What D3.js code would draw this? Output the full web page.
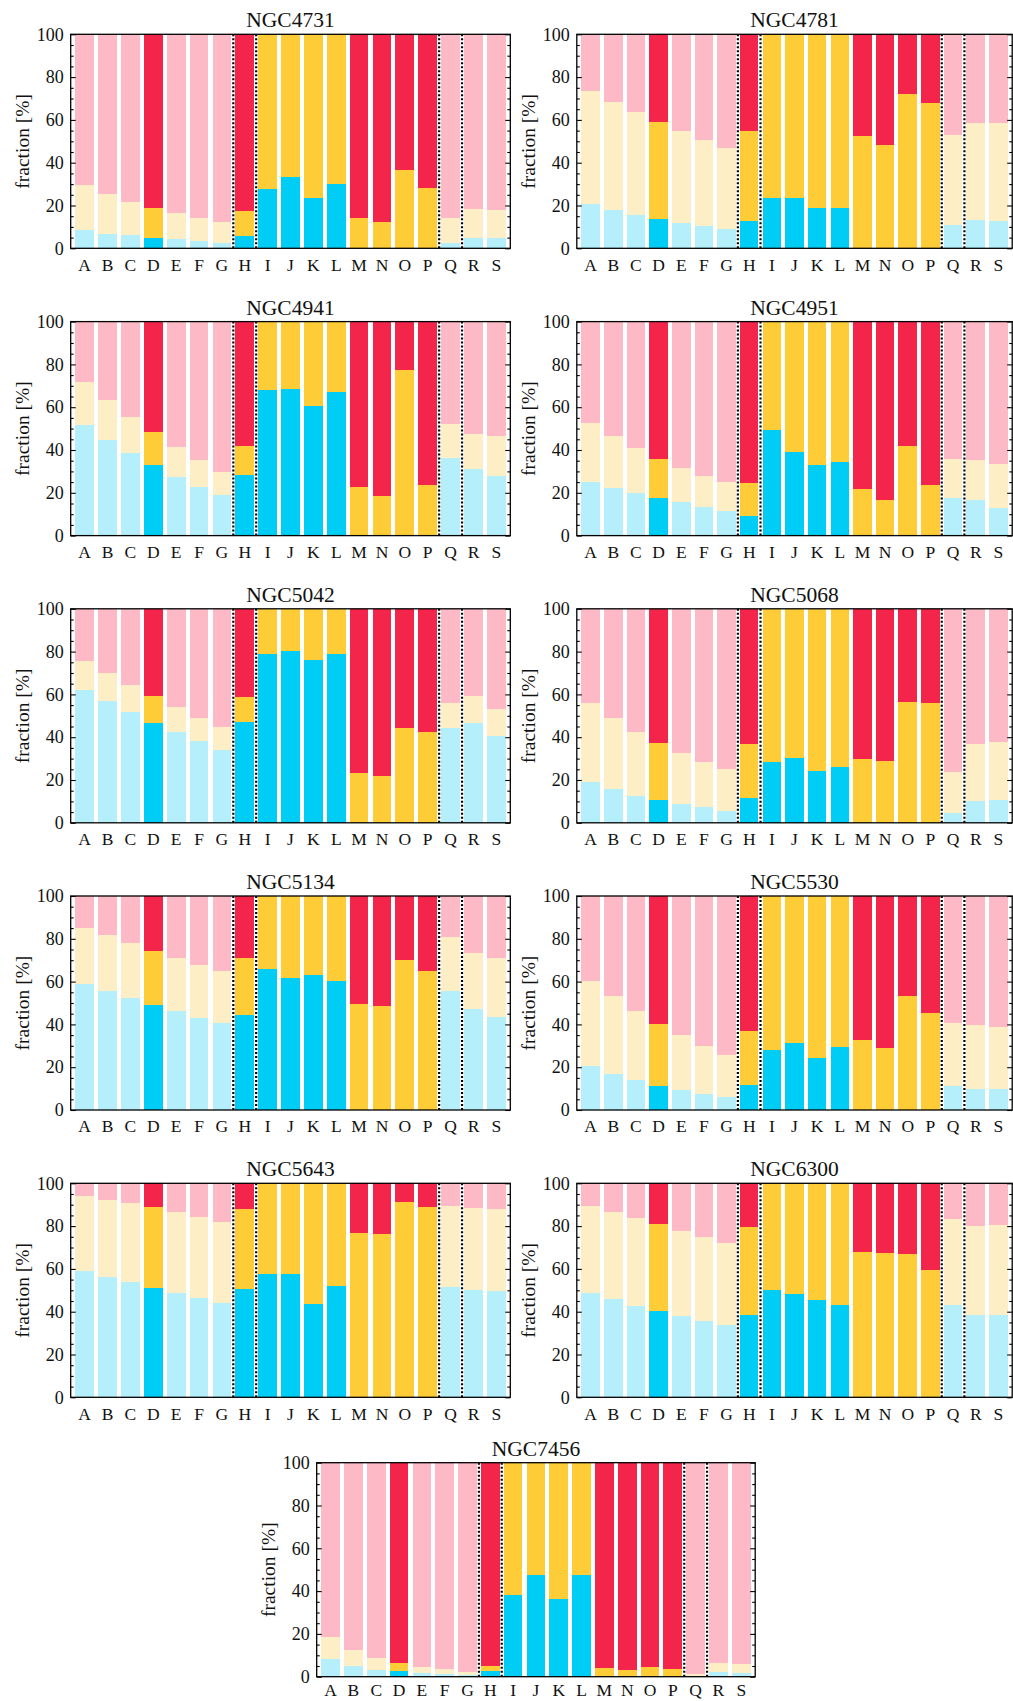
<!DOCTYPE html>
<html><head><meta charset="utf-8">
<script src="https://cdn.jsdelivr.net/npm/d3@7"></script>
<style>
body{margin:0;background:#fff}
svg{display:block}
svg text{font-family:"Liberation Serif","Times New Roman",serif !important;fill:#111}
</style>
</head><body>
<svg id="chart" width="1013" height="1701"></svg>
<script>
// ---------------- data ----------------
const categories = ["A","B","C","D","E","F","G","H","I","J","K","L","M","N","O","P","Q","R","S"];
const strongCats = ["D","H","I","J","K","L","M","N","O","P"];
const separatorsBefore = ["H","I","Q","R"];
const yTicks = [0,20,40,60,80,100];
const galaxies = ["NGC4731","NGC4781","NGC4941","NGC4951","NGC5042","NGC5068","NGC5134","NGC5530","NGC5643","NGC6300","NGC7456"];

// fraction [%] of the bottom (blue) and middle (yellow) components; the top (red) is the remainder to 100
const blue4731   = [8.6,6.7,6.2,4.8,4.4,3.4,2.5,5.8,27.7,33.3,23.5,30.0,0,0,0,0,2.5,4.8,4.8];
const yellow4731 = [20.9,18.6,15.6,14.0,12.1,10.8,9.8,11.6,72.3,66.7,76.5,70.0,14.2,12.3,36.5,28.1,11.7,13.6,13.1];
const blue4781   = [20.7,17.9,15.6,13.7,11.8,10.4,9.0,12.8,23.5,23.5,18.8,18.8,0,0,0,0,10.9,13.2,12.8];
const yellow4781 = [52.7,50.4,48.0,45.2,42.9,40.1,37.8,41.9,76.5,76.5,81.2,81.2,52.4,48.2,72.0,67.8,42.0,45.3,45.7];
const blue4941   = [51.7,44.7,38.8,33.0,27.4,22.7,19.0,28.3,67.9,68.5,60.6,67.1,0,0,0,0,36.3,31.2,27.9];
const yellow4941 = [20.0,18.5,16.7,15.4,13.9,12.7,10.8,13.6,32.1,31.5,39.4,32.9,22.7,18.5,77.4,23.7,15.9,16.3,18.7];
const blue4951   = [25.1,22.3,19.9,17.6,15.7,13.4,11.7,9.2,49.4,39.1,33.0,34.4,0,0,0,0,17.6,16.7,12.9];
const yellow4951 = [27.5,24.3,21.1,18.2,15.9,14.5,13.4,15.4,50.6,60.9,67.0,65.6,21.8,16.7,41.9,23.7,18.2,18.7,20.6];
const blue5042   = [62.1,57.1,51.8,46.7,42.5,38.3,34.1,47.1,78.8,80.2,76.0,78.8,0,0,0,0,44.3,46.7,40.6];
const yellow5042 = [13.5,12.9,12.6,12.6,11.6,10.7,10.7,11.7,21.2,19.8,24.0,21.2,23.3,21.9,44.3,42.5,11.7,12.6,12.6];
const blue5068   = [19.1,15.9,12.6,10.7,8.9,7.5,5.6,11.4,28.5,30.3,24.3,26.1,0,0,0,0,4.7,10.3,10.7];
const yellow5068 = [36.9,33.1,29.9,26.6,23.8,21.0,19.6,25.5,71.5,69.7,75.7,73.9,29.9,28.9,56.5,56.0,19.1,26.6,27.1];
const blue5134   = [58.8,55.5,52.3,49.0,46.2,42.9,40.6,44.3,65.8,61.6,63.0,60.2,0,0,0,0,55.5,47.1,43.4];
const yellow5134 = [26.1,26.1,25.6,25.2,24.7,24.8,24.3,26.6,34.2,38.4,37.0,39.8,49.5,48.5,70.0,64.9,25.2,26.2,27.5];
const blue5530   = [20.5,16.8,14.0,11.2,9.3,7.5,6.1,11.7,28.0,31.3,24.3,29.4,0,0,0,0,11.4,9.8,9.8];
const yellow5530 = [39.7,36.4,32.2,28.9,25.7,22.4,19.6,25.2,72.0,68.7,75.7,70.6,32.7,28.9,53.2,45.3,29.2,29.9,28.9];
const blue5643   = [59.0,56.2,53.9,51.1,48.8,46.4,44.1,50.6,57.6,57.6,43.6,52.0,0,0,0,0,51.6,50.2,49.7];
const yellow5643 = [35.1,36.0,36.9,37.8,37.8,37.9,37.8,37.4,42.4,42.4,56.4,48.0,76.9,76.4,91.4,89.1,37.9,38.4,38.4];
const blue6300   = [48.8,45.9,42.7,40.3,38.0,35.6,33.8,38.4,50.2,48.3,45.5,43.1,0,0,0,0,43.1,38.4,38.4];
const yellow6300 = [40.7,40.8,41.2,40.8,39.8,39.4,38.4,41.3,49.8,51.7,54.5,56.9,68.0,67.5,67.0,59.5,40.3,41.8,42.2];
const blue7456   = [8.3,5.0,3.1,2.6,1.7,1.2,0.6,2.6,38.2,47.5,36.3,47.5,0,0,0,0,0.2,2.2,1.7];
const yellow7456 = [10.2,7.5,5.6,3.8,2.8,2.4,1.6,2.4,61.8,52.5,63.7,52.5,4.0,3.1,4.5,3.6,1.0,4.2,4.2];

const blueSeries   = [blue4731,blue4781,blue4941,blue4951,blue5042,blue5068,blue5134,blue5530,blue5643,blue6300,blue7456];
const yellowSeries = [yellow4731,yellow4781,yellow4941,yellow4951,yellow5042,yellow5068,yellow5134,yellow5530,yellow5643,yellow6300,yellow7456];

// ---------------- style / layout ----------------
const lightColor  = {blue:"#b4effb", yellow:"#fdeec5", red:"#fdb9c6"};
const strongColor = {blue:"#00cdf6", yellow:"#fecc36", red:"#f4254a"};
const colX = [70.7, 576.8];
const colW = [439.6, 435.4];
const rowY = [34.3, 321.6, 608.8, 896.0, 1183.3];
const plotH = 214;
const FONT = '"Liberation Serif","Times New Roman",serif';

const svg = d3.select("#chart");

function layout(i){
  if (i === 10) return {x:316.7, y:1462.7, w:438.5, pad:7};
  const col = i % 2, row = Math.floor(i/2);
  return {x:colX[col], y:rowY[row], w:colW[col], pad:10};
}

galaxies.forEach((name, gi) => {
  const L = layout(gi);
  const w = L.w, h = plotH;
  const g = svg.append("g").attr("transform", `translate(${L.x},${L.y})`);

  const x = d3.scaleBand().domain(categories).range([0, w]).paddingInner(0.18).paddingOuter(0.2);
  const y = d3.scaleLinear().domain([0, 100]).range([h, 0]);

  const rows = categories.map((c, i) => {
    const b = blueSeries[gi][i], yl = yellowSeries[gi][i];
    return {cat:c, blue:b, yellow:yl, red:Math.max(0, 100 - b - yl)};
  });
  const stacked = d3.stack().keys(["blue","yellow","red"])(rows);

  stacked.forEach(series => {
    g.append("g").selectAll("rect").data(series).join("rect")
      .attr("x", d => x(d.data.cat))
      .attr("width", x.bandwidth())
      .attr("y", d => y(d[1]))
      .attr("height", d => Math.max(0, y(d[0]) - y(d[1])))
      .attr("fill", d => strongCats.includes(d.data.cat) ? strongColor[series.key] : lightColor[series.key])
      .attr("shape-rendering", "crispEdges");
  });

  // dotted separators
  const gapHalf = x.step() * x.paddingInner() / 2;
  g.append("g").selectAll("line").data(separatorsBefore).join("line")
    .attr("x1", d => x(d) - gapHalf).attr("x2", d => x(d) - gapHalf)
    .attr("y1", 0).attr("y2", h)
    .attr("stroke", "#000").attr("stroke-width", 2.2).attr("stroke-dasharray", "2,2");

  // axes
  const minor = d3.range(0, 101, 5).filter(v => v % 20 !== 0);
  const left = g.append("g").call(d3.axisLeft(y).tickValues(yTicks).tickSizeInner(-5).tickSizeOuter(0).tickPadding(7));
  left.attr("font-family", FONT).attr("font-size", 18);
  left.select(".domain").remove();
  left.selectAll("text").attr("font-size", 18).attr("fill", "#111");
  g.append("g").call(d3.axisLeft(y).tickValues(minor).tickSize(-3).tickFormat(""))
    .select(".domain").remove();
  const right = g.append("g").attr("transform", `translate(${w},0)`)
    .call(d3.axisRight(y).tickValues(yTicks).tickSize(-5).tickFormat(""));
  right.select(".domain").remove();
  g.append("g").attr("transform", `translate(${w},0)`)
    .call(d3.axisRight(y).tickValues(minor).tickSize(-3).tickFormat(""))
    .select(".domain").remove();
  const bottom = g.append("g").attr("transform", `translate(0,${h})`)
    .call(d3.axisBottom(x).tickSize(0).tickPadding(L.pad));
  bottom.attr("font-family", FONT).attr("font-size", 17.5);
  bottom.select(".domain").remove();
  bottom.selectAll("text").attr("font-size", 17.5).attr("fill", "#111");
  g.selectAll(".tick line").attr("stroke", "#000").attr("stroke-width", 1.1);

  // frame
  g.append("rect").attr("x", 0).attr("y", 0).attr("width", w).attr("height", h)
    .attr("fill", "none").attr("stroke", "#000").attr("stroke-width", 1.3);

  // title
  g.append("text").attr("x", w/2).attr("y", -7).attr("text-anchor", "middle")
    .attr("font-family", FONT).attr("font-size", 21.5).text(name);

  // y label
  g.append("text").attr("transform", `translate(-42,${h/2}) rotate(-90)`)
    .attr("text-anchor", "middle").attr("font-family", FONT).attr("font-size", 19.5).text("fraction [%]");
});
</script>
</body></html>
